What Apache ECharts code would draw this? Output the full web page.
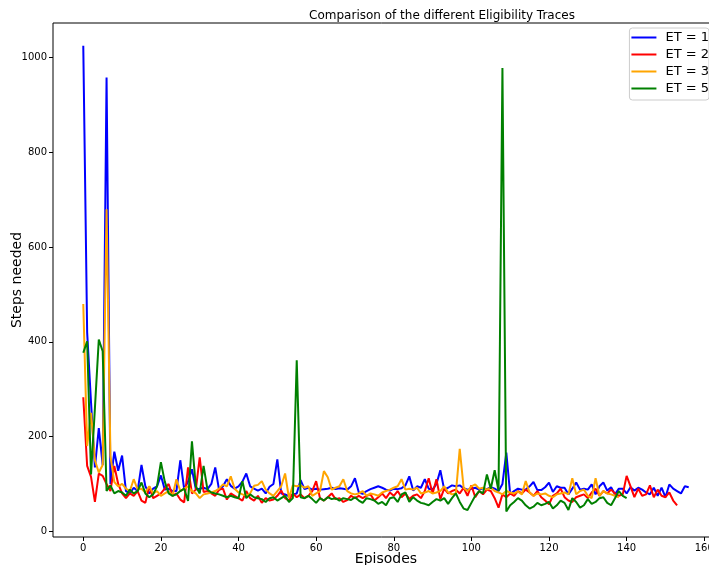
<!DOCTYPE html>
<html>
<head>
<meta charset="utf-8">
<script src="https://cdn.jsdelivr.net/npm/echarts@6/dist/echarts.min.js"></script>
<style>html,body{margin:0;padding:0;background:#fff}#c{width:709px;height:565px}</style>
</head>
<body>
<div id="c"></div>
<script>
const seriesNames = ['ET = 1', 'ET = 2', 'ET = 3', 'ET = 5'];
const xTicks = [0, 20, 40, 60, 80, 100, 120, 140, 160];
const yTicks = [0, 200, 400, 600, 800, 1000];

const et1 = [1025,420,272,135,218,140,958,100,168,128,
160,85,80,92,85,140,95,80,90,95,
118,88,90,85,85,150,89,105,131,89,
90,92,89,100,135,87,95,110,96,90,
95,105,122,95,90,86,90,80,94,100,
152,80,78,74,78,80,108,89,92,88,
90,88,89,90,92,89,91,90,88,95,
112,82,79,85,89,92,95,92,88,86,
90,89,91,97,116,86,95,92,110,90,
88,100,129,88,92,97,95,97,91,88,
90,92,88,91,89,93,90,85,100,166,
78,85,90,88,88,95,104,87,87,93,
103,83,95,92,92,78,90,103,88,90,
88,99,78,95,103,86,93,78,90,90,
80,93,86,92,88,82,78,92,75,92,
72,99,90,85,80,95,93];

const et2 = [283,138,115,62,122,117,100,85,138,100,
80,70,80,75,85,65,60,95,70,75,
80,90,100,75,80,67,61,135,80,88,
156,83,85,80,75,88,90,67,80,75,
70,65,85,70,65,75,60,70,65,67,
75,86,70,65,80,72,78,70,75,85,
106,70,65,72,80,68,70,62,66,75,
70,75,70,75,78,65,72,80,70,82,
75,85,72,80,68,75,78,70,85,112,
80,110,68,90,80,85,88,80,92,75,
97,72,85,78,88,85,70,50,78,72,
80,75,85,80,88,82,75,85,72,65,
57,75,80,90,72,65,62,72,75,78,
70,82,90,75,85,80,88,80,75,78,
117,95,72,90,75,78,97,72,88,75,
72,82,65,55];

const et3 = [480,180,250,150,124,140,680,159,104,95,
100,90,85,110,88,90,82,95,80,85,
75,80,85,75,110,85,90,95,85,80,
70,78,80,82,85,90,99,95,116,90,
82,78,75,80,96,98,106,88,80,75,
85,95,122,70,97,95,97,92,95,75,
80,85,127,114,88,92,95,110,85,80,
78,80,85,75,80,78,75,82,85,88,
92,95,110,88,90,88,92,80,82,85,
80,82,85,95,82,78,80,174,92,85,
95,99,90,92,88,92,85,82,78,85,
82,80,84,78,106,82,75,80,78,80,
75,72,78,80,82,78,112,78,85,88,
75,70,112,75,85,80,78,75,72];

const et5 = [377,401,120,260,405,380,85,97,80,85,
82,75,88,80,85,103,80,72,78,95,
146,105,80,75,78,85,90,64,190,95,
80,138,88,82,80,78,75,72,75,72,
70,106,70,78,72,70,68,62,70,72,
65,70,75,62,70,361,72,70,75,68,
60,70,65,72,68,70,65,70,68,66,
72,65,60,70,68,65,58,62,55,70,
72,62,78,82,62,72,65,60,58,55,
62,68,65,70,58,70,80,62,48,45,
60,75,85,80,120,90,129,85,978,42,
55,62,70,65,55,48,52,60,55,58,
62,48,55,65,60,45,70,62,50,55,
68,58,62,70,72,60,55,70,85,75,
70];

const colors = ['#0000ff', '#ff0000', '#ffa500', '#008000'];
const allData = [et1, et2, et3, et5];
const FONT = 'DejaVu Sans';

const chart = echarts.init(document.getElementById('c'), null, {renderer: 'canvas'});
chart.setOption({
  animation: false,
  backgroundColor: '#fff',
  textStyle: {fontFamily: FONT},
  title: {
    text: 'Comparison of the different Eligibility Traces',
    left: 437, top: 5, textAlign: 'center',
    textStyle: {fontFamily: FONT, fontSize: 12, fontWeight: 'normal', color: '#000'}
  },
  legend: {
    data: seriesNames,
    orient: 'vertical',
    right: 0, top: 28,
    icon: 'rect',
    itemWidth: 25, itemHeight: 2,
    itemGap: 4,
    padding: [3, 0, 5, 2],
    borderColor: '#cccccc', borderWidth: 1, borderRadius: 3,
    backgroundColor: '#fff',
    textStyle: {fontFamily: FONT, fontSize: 13, color: '#000', padding: [0, 0, 0, 4],
      overflow: 'none'}
  },
  grid: {
    left: 53, top: 23, width: 666, height: 514,
    outerBoundsMode: 'none', containLabel: false,
    show: true, borderColor: '#000', borderWidth: 1, backgroundColor: 'transparent'
  },
  xAxis: {
    type: 'value', min: -7.8, max: 163.8,
    name: 'Episodes', nameLocation: 'middle', nameGap: 15, nameMoveOverlap: false,
    nameTextStyle: {fontFamily: FONT, fontSize: 14, color: '#000'},
    axisLine: {show: false, onZero: false},
    splitLine: {show: false},
    axisTick: {show: true, customValues: xTicks, length: 4, inside: false, lineStyle: {color: '#000'}},
    axisLabel: {customValues: xTicks, fontFamily: FONT, fontSize: 10, color: '#000', margin: 6,
      formatter: v => String(v)}
  },
  yAxis: {
    type: 'value', min: -12, max: 1073,
    name: 'Steps needed', nameLocation: 'middle', nameGap: 29, nameRotate: 90, nameMoveOverlap: false,
    nameTextStyle: {fontFamily: FONT, fontSize: 14, color: '#000'},
    axisLine: {show: false, onZero: false},
    splitLine: {show: false},
    axisTick: {show: true, customValues: yTicks, length: 4, inside: false, lineStyle: {color: '#000'}},
    axisLabel: {customValues: yTicks, fontFamily: FONT, fontSize: 10, color: '#000', margin: 6,
      formatter: v => String(v)}
  },
  series: allData.map((arr, k) => ({
    name: seriesNames[k],
    type: 'line',
    showSymbol: false, symbol: 'none',
    clip: true,
    color: colors[k],
    lineStyle: {width: 2, color: colors[k]},
    data: arr.map((v, i) => [i, v])
  }))
});
</script>
</body>
</html>
